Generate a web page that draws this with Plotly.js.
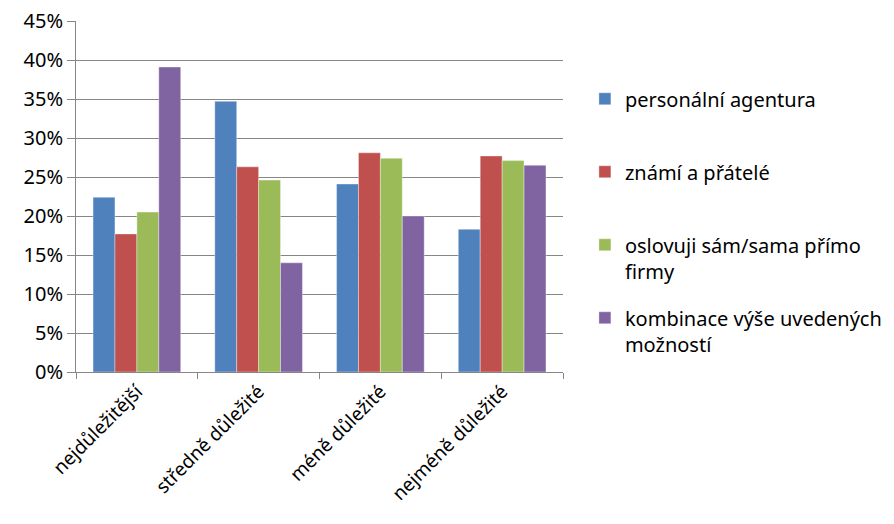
<!DOCTYPE html>
<html>
<head>
<meta charset="utf-8">
<script src="https://cdn.plot.ly/plotly-3.0.1.min.js"></script>
<style>body{margin:0;background:#fff;}#chart{width:894px;height:524px;}</style>
</head>
<body>
<div id="chart"></div>
<script>
const categories = ["nejdůležitější", "středně důležité", "méně důležité", "nejméně důležité"];
const seriesNames = ["personální agentura", "známí a přátelé", "oslovuji sám/sama přímo<br>firmy", "kombinace výše uvedených<br>možností"];
const personalniAgentura = [0.224, 0.347, 0.241, 0.183];
const znamiAPratele = [0.177, 0.263, 0.281, 0.277];
const oslovujiPrimo = [0.205, 0.246, 0.274, 0.271];
const kombinace = [0.391, 0.140, 0.200, 0.265];
const colors = ["#4F81BD", "#C0504D", "#9BBB59", "#8064A2"];
const yTicks = [0, 0.05, 0.10, 0.15, 0.20, 0.25, 0.30, 0.35, 0.40, 0.45];

const allValues = [personalniAgentura, znamiAPratele, oslovujiPrimo, kombinace];
const font = "Noto Sans, sans-serif";
const traces = allValues.map((vals, i) => ({
  type: "bar",
  name: seriesNames[i].indexOf("<br>") < 0 ? seriesNames[i] + "<br> " : seriesNames[i],
  x: categories,
  y: vals,
  legendgroup: "g" + i,
  marker: {color: colors[i], line: {color: "rgba(255,255,255,0.6)", width: 0.6}},
  hoverinfo: "x+y+name"
}));

const layout = {
  width: 894, height: 524,
  margin: {l: 76, r: 331, t: 21, b: 152, autoexpand: false},
  paper_bgcolor: "#ffffff", plot_bgcolor: "#ffffff",
  font: {family: font, size: 19, color: "#000000"},
  barmode: "group",
  bargap: 0.28,
  bargroupgap: 0,
  showlegend: true,
  legend: {
    x: 1.045, xanchor: "left", y: 0.834, yanchor: "top",
    valign: "top",
    tracegroupgap: 18,
    font: {family: font, size: 20, color: "#000"},
    itemwidth: 30
  },
  xaxis: {
    type: "category",
    showline: true, linecolor: "#868686", linewidth: 1,
    ticks: "outside", tickson: "boundaries", ticklen: 6, tickcolor: "#868686",
    tickangle: -45,
    tickfont: {family: font, size: 19, color: "#000"},
    showgrid: false, zeroline: false, fixedrange: true
  },
  yaxis: {
    range: [0, 0.45],
    tickvals: yTicks,
    tickformat: ".0%",
    showline: true, linecolor: "#868686", linewidth: 1,
    ticks: "outside", ticklen: 8, tickcolor: "#868686",
    showgrid: true, gridcolor: "#868686", gridwidth: 1,
    zeroline: false,
    tickfont: {family: font, size: 20, color: "#000"},
    fixedrange: true
  }
};

Plotly.newPlot("chart", traces, layout, {displayModeBar: false, staticPlot: true});
</script>
</body>
</html>
